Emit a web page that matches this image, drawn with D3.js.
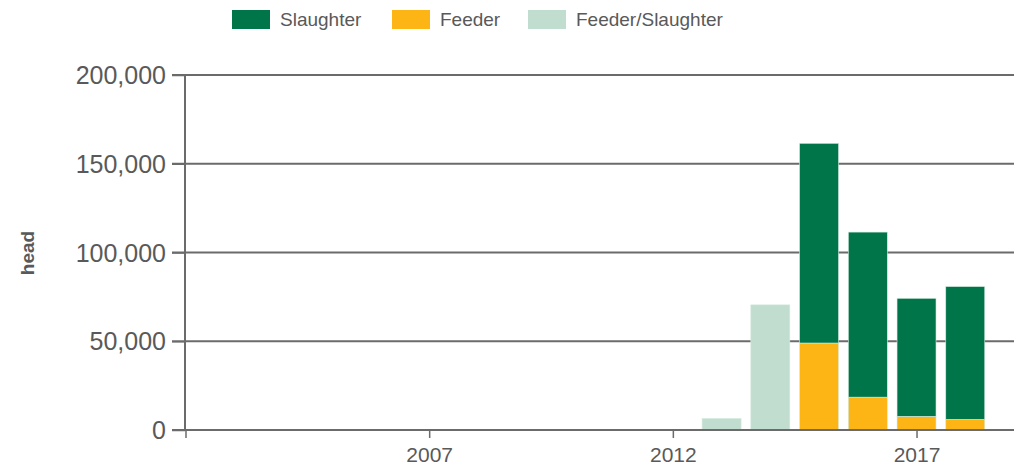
<!DOCTYPE html>
<html>
<head>
<meta charset="utf-8">
<script src="https://cdn.jsdelivr.net/npm/d3@7"></script>
<style>
  body { margin: 0; background: #fff; }
  text { font-family: "Liberation Sans", Arial, sans-serif; fill: #595959; }
</style>
</head>
<body>
<script>
// years shown on the chart
var years = [2002,2003,2004,2005,2006,2007,2008,2009,2010,2011,2012,2013,2014,2015,2016,2017,2018];

// head counts per year
var feeder    = [0,0,0,0,0,0,0,0,0,0,0,0,0,49000,18500,7700,6000];
var slaughter = [0,0,0,0,0,0,0,0,0,0,0,0,0,112500,93000,66500,74800];
var feederSlaughter = [0,0,0,0,0,0,0,0,0,0,0,6500,70500,0,0,0,0];

var yTicks = [0, 50000, 100000, 150000, 200000];
var xTicks = [2002, 2007, 2012, 2017];
var xTickLabels = ["", "2007", "2012", "2017"];

var seriesNames = ["Slaughter", "Feeder", "Feeder/Slaughter"];
var colors = ["#00754A", "#FDB515", "#C1DDCF"];

var width = 1018, height = 469;

var svg = d3.select("body")
            .append("svg")
            .attr("width", width)
            .attr("height", height);

var xScale = d3.scaleLinear()
               .domain([2002, 2019])
               .range([185.5, 1014]);

var yScale = d3.scaleLinear()
               .domain([0, 200000])
               .range([430, 75]);

var barWidth = (xScale(2003) - xScale(2002)) * 0.8;

// gridlines
svg.append("g")
   .selectAll("line")
   .data(yTicks)
   .enter()
   .append("line")
   .attr("x1", 172)
   .attr("x2", 1014)
   .attr("y1", function(d){ return yScale(d); })
   .attr("y2", function(d){ return yScale(d); })
   .attr("stroke", "#6b6b6b")
   .attr("stroke-width", 2);

// stacked rows
var rows = years.map(function(y, i){
  return {year: y, "Feeder": feeder[i], "Slaughter": slaughter[i], "Feeder/Slaughter": feederSlaughter[i]};
});

var stack = d3.stack().keys(["Feeder", "Slaughter", "Feeder/Slaughter"]);
var stacked = stack(rows);

var colorOf = d3.scaleOrdinal().domain(seriesNames).range(colors);

svg.append("g")
   .selectAll("g")
   .data(stacked)
   .enter()
   .append("g")
   .attr("fill", function(d){ return colorOf(d.key); })
   .selectAll("rect")
   .data(function(d){ return d.filter(function(p){ return p[1] - p[0] > 0; }); })
   .enter()
   .append("rect")
   .attr("x", function(d){ return xScale(d.data.year) - barWidth / 2; })
   .attr("width", barWidth)
   .attr("y", function(d){ return yScale(d[1]); })
   .attr("height", function(d){ return yScale(d[0]) - yScale(d[1]); })
   .attr("stroke", "#d5ebe0")
   .attr("stroke-width", 0.6);

// y axis
var yAxis = svg.append("g")
   .attr("transform", "translate(185,0)")
   .call(d3.axisLeft(yScale).tickValues(yTicks).tickSize(13).tickPadding(6).tickFormat(d3.format(",")));
yAxis.select(".domain").attr("stroke", "#6b6b6b").attr("stroke-width", 2).attr("d", "M0,75V430");
yAxis.selectAll(".tick line").attr("stroke", "#6b6b6b").attr("stroke-width", 1.5);
yAxis.selectAll(".tick text")
     .attr("font-size", 25)
     .attr("font-family", "Liberation Sans, Arial, sans-serif")
     .attr("fill", "#595959")
     .attr("dy", "0.34em");

// x axis
var xAxis = svg.append("g")
   .attr("transform", "translate(0,430)")
   .call(d3.axisBottom(xScale).tickValues(xTicks).tickSize(8).tickPadding(9)
           .tickFormat(function(d, i){ return xTickLabels[i]; }));
xAxis.select(".domain").attr("stroke", "#6b6b6b").attr("stroke-width", 2).attr("d", "M185,0H1014");
xAxis.selectAll(".tick line").attr("stroke", "#6b6b6b").attr("stroke-width", 1.5);
xAxis.selectAll(".tick text")
     .attr("font-size", 21)
     .attr("font-family", "Liberation Sans, Arial, sans-serif")
     .attr("fill", "#595959");

// y axis title
svg.append("text")
   .attr("transform", "translate(34,253) rotate(-90)")
   .attr("text-anchor", "middle")
   .attr("font-size", 19)
   .attr("font-weight", "bold")
   .text("head");

// legend
var legendX = [232, 392, 528];
var legend = svg.append("g");

legend.selectAll("rect")
      .data(seriesNames)
      .enter()
      .append("rect")
      .attr("x", function(d, i){ return legendX[i]; })
      .attr("y", 10)
      .attr("width", 38)
      .attr("height", 19)
      .attr("fill", function(d){ return colorOf(d); });

legend.selectAll("text")
      .data(seriesNames)
      .enter()
      .append("text")
      .attr("x", function(d, i){ return legendX[i] + 48; })
      .attr("y", 26)
      .attr("font-size", 19)
      .text(function(d){ return d; });
</script>
</body>
</html>
